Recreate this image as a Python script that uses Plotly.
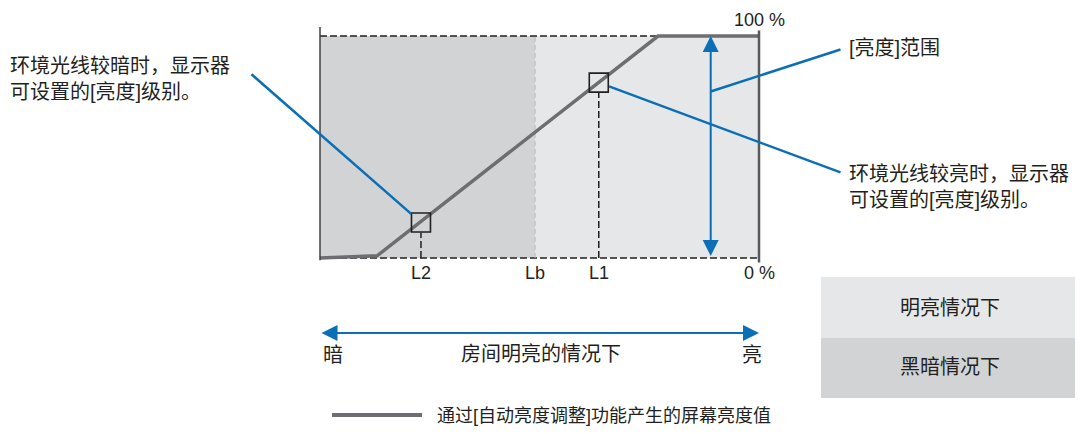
import plotly.graph_objects as go

W, H = 1083, 434
OFF = 8  # page body margin in the browser

# ambient light level (0-100) -> screen brightness (%)
curve_x = [0, 13, 77, 100]
curve_y = [0, 1, 100, 100]

mark_names = ["L2", "Lb", "L1"]
mark_x = [23, 49, 63.5]
square_x = [23, 63.5]
square_y = [16, 79]
range_x = 89
range_lead_y = 75

pct_labels = ["0 %", "100 %"]
pct_values = [0, 100]

region_edges = [0, 49, 100]
region_colors = ["#d1d3d4", "#e6e7e8"]
region_names = ["黑暗情况下", "明亮情况下"]

TXT = "#231f20"
BLUE = "#0a6fb7"
CURVE = "#6d6e71"
FONT = "Liberation Sans, Noto Sans CJK SC, sans-serif"

# pixel frame of the 0..100 box (figure pixels)
X0, X1 = 320 - OFF, 759 - OFF
Y0, Y1 = 258 - OFF, 36 - OFF
kx = (X1 - X0) / 100
ky = (Y0 - Y1) / 100
XR = [-5, 105]
YR = [-10, 110]


def px(x):
    return (x - OFF) / W


def py(y):
    return 1 - (y - OFF) / H


def sx_pix(x):
    return X0 + x * kx


def sy_pix(y):
    return Y0 - y * ky


fig = go.Figure()

# reference lines 0% / 100%
for v in pct_values:
    fig.add_trace(go.Scatter(x=[region_edges[0], region_edges[-1]], y=[v, v], mode="lines",
                             line=dict(color=TXT, width=1.5, dash="7px,3px"), hoverinfo="skip"))

# Lb divider
fig.add_trace(go.Scatter(x=[mark_x[1], mark_x[1]], y=pct_values, mode="lines",
                         line=dict(color="#b8babc", width=1, dash="5px,3px"), hoverinfo="skip"))

# drop lines below squares
for sx, sy in zip(square_x, square_y):
    fig.add_trace(go.Scatter(x=[sx, sx], y=[0, sy - 4.5], mode="lines",
                             line=dict(color=TXT, width=1.5, dash="7px,3px"), hoverinfo="skip"))

# brightness curve
fig.add_trace(go.Scatter(x=curve_x, y=curve_y, mode="lines",
                         line=dict(color=CURVE, width=3.5), hoverinfo="skip"))

# squares at L2 / L1
fig.add_trace(go.Scatter(x=square_x, y=square_y, mode="markers",
                         marker=dict(symbol="square-open", size=19, color=TXT, line=dict(width=1.6)),
                         hoverinfo="skip"))

shapes = []
for i, col in enumerate(region_colors):
    shapes.append(dict(type="rect", xref="x", yref="y", x0=region_edges[i], x1=region_edges[i + 1],
                       y0=0, y1=100, fillcolor=col, line=dict(width=0), layer="below"))
# side frame lines
shapes.append(dict(type="line", xref="x", yref="y", x0=0, x1=0, y0=-1, y1=104,
                   line=dict(color="#414042", width=1.5)))
shapes.append(dict(type="line", xref="x", yref="y", x0=100, x1=100, y0=-2, y1=102.5,
                   line=dict(color="#58595b", width=2.5)))

# right-hand condition boxes
shapes.append(dict(type="rect", xref="paper", yref="paper", x0=px(821), x1=px(1078),
                   y0=py(338), y1=py(277), fillcolor=region_colors[1], line=dict(width=0)))
shapes.append(dict(type="rect", xref="paper", yref="paper", x0=px(821), x1=px(1078),
                   y0=py(398), y1=py(338), fillcolor=region_colors[0], line=dict(width=0)))

# legend line
shapes.append(dict(type="line", xref="paper", yref="paper", x0=px(332), x1=px(422),
                   y0=py(415), y1=py(415), line=dict(color=CURVE, width=4)))

ann = []
# tick labels
for name, mx in zip(mark_names, mark_x):
    ann.append(dict(x=mx, y=0, xref="x", yref="y", text=name, showarrow=False, yshift=-15,
                    xanchor="center", yanchor="middle",
                    font=dict(size=18, color=TXT, family=FONT)))
for lab, v in zip(pct_labels, pct_values):
    ann.append(dict(x=100, y=v, xref="x", yref="y", text=lab, showarrow=False,
                    xanchor="center", yanchor="middle",
                    yshift=16 if v else -15, font=dict(size=18, color=TXT, family=FONT)))

# vertical range arrow
ann.append(dict(x=range_x, y=100, ax=range_x, ay=0, xref="x", yref="y", axref="x", ayref="y",
                text=" ", font=dict(size=1), showarrow=True, arrowside="end+start",
                arrowhead=2, startarrowhead=2, arrowsize=1.6, startarrowsize=1.6,
                arrowwidth=2, arrowcolor=BLUE))

# leader lines
ann.append(dict(x=square_x[0], y=square_y[0], xref="x", yref="y", text=" ", font=dict(size=1),
                showarrow=True, arrowhead=0, arrowwidth=2.5, arrowcolor=BLUE, standoff=13,
                ax=(250 - OFF) - sx_pix(square_x[0]), ay=(73 - OFF) - sy_pix(square_y[0])))
ann.append(dict(x=square_x[1], y=square_y[1], xref="x", yref="y", text=" ", font=dict(size=1),
                showarrow=True, arrowhead=0, arrowwidth=2.5, arrowcolor=BLUE, standoff=11,
                ax=(842 - OFF) - sx_pix(square_x[1]), ay=(173 - OFF) - sy_pix(square_y[1])))
ann.append(dict(x=range_x, y=range_lead_y, xref="x", yref="y", text=" ", font=dict(size=1),
                showarrow=True, arrowhead=0, arrowwidth=2.5, arrowcolor=BLUE, standoff=0,
                ax=(842 - OFF) - sx_pix(range_x), ay=(49 - OFF) - sy_pix(range_lead_y)))


def label(x, y, text, size=20, anchor="center"):
    return dict(x=px(x), y=py(y), xref="paper", yref="paper", xanchor=anchor, yanchor="middle",
                align="left", showarrow=False, text=text,
                font=dict(size=size, color=TXT, family=FONT))


# side texts
ann.append(label(8, 79.5, "环境光线较暗时，显示器<br>可设置的[亮度]级别。", anchor="left"))
ann.append(label(847, 48, "[亮度]范围", anchor="left"))
ann.append(label(847, 187, "环境光线较亮时，显示器<br>可设置的[亮度]级别。", anchor="left"))

# room brightness arrow
ann.append(dict(x=100, y=py(333), ax=0, ay=0, xref="x", yref="paper", axref="x", ayref="pixel",
                text=" ", font=dict(size=1), showarrow=True, arrowside="end+start",
                arrowhead=2, startarrowhead=2, arrowsize=1.6, startarrowsize=1.6,
                arrowwidth=2, arrowcolor=BLUE))
ann.append(label(333, 355, "暗"))
ann.append(label(541, 354, "房间明亮的情况下"))
ann.append(label(752, 355, "亮"))

# box labels
ann.append(label(950, 308, region_names[1]))
ann.append(label(950, 367, region_names[0]))

# legend text
ann.append(label(435, 416, "通过[自动亮度调整]功能产生的屏幕亮度值", size=18, anchor="left"))

fig.update_layout(
    width=W, height=H,
    margin=dict(l=0, r=0, t=0, b=0),
    paper_bgcolor="white", plot_bgcolor="rgba(0,0,0,0)",
    showlegend=False,
    shapes=shapes, annotations=ann,
    xaxis=dict(range=XR, domain=[(X0 + XR[0] * kx) / W, (X0 + XR[1] * kx) / W],
               visible=False, fixedrange=True),
    yaxis=dict(range=YR, domain=[1 - (Y0 - YR[0] * ky) / H, 1 - (Y0 - YR[1] * ky) / H],
               visible=False, fixedrange=True),
)

fig.write_html("out.html")
